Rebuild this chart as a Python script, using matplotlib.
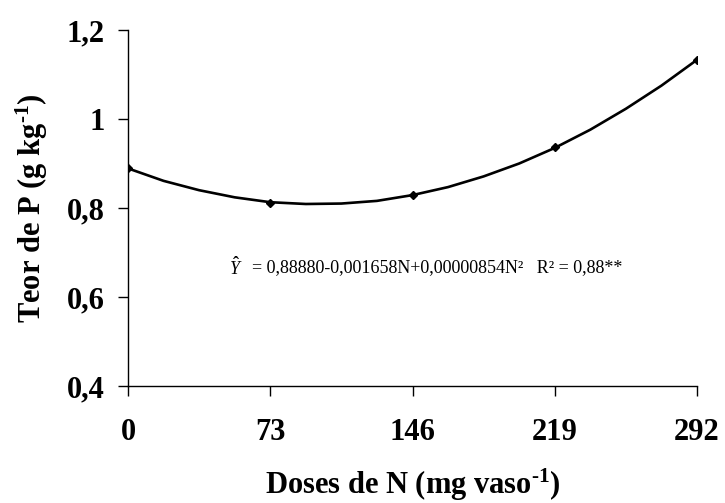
import numpy as np
import matplotlib.pyplot as plt

# fitted curve
doses_curve = [0, 18.25, 36.5, 54.75, 73, 91.25, 109.5, 127.75, 146,
               164.25, 182.5, 200.75, 219, 237.25, 255.5, 273.75, 292]
teor_curve = [0.889, 0.861, 0.840, 0.824, 0.813, 0.809, 0.810, 0.816, 0.829,
              0.847, 0.871, 0.900, 0.935, 0.976, 1.023, 1.075, 1.133]

# observed points
doses = [0, 73, 146, 219, 292]
teor = [0.889, 0.812, 0.830, 0.937, 1.132]

yticks = [0.4, 0.6, 0.8, 1.0, 1.2]
ytick_labels = ['0,4', '0,6', '0,8', '1', '1,2']

plt.rcParams['font.family'] = 'Liberation Serif'
plt.rcParams['mathtext.fontset'] = 'custom'
plt.rcParams['mathtext.rm'] = 'Liberation Serif:bold'
plt.rcParams['mathtext.it'] = 'Liberation Serif:italic'
plt.rcParams['mathtext.bf'] = 'Liberation Serif:bold'

fig = plt.figure(figsize=(7.25, 5.03), dpi=100)
# axes box in pixels: x 128..697, y 30..386
ax = fig.add_axes([128 / 725, 1 - 386 / 503, (697 - 128) / 725, (386 - 30) / 503])

ax.plot(doses_curve, teor_curve, color='black', lw=1.9)
ax.plot(doses, teor, 'D', color='black', ms=4)

ax.set_xlim(0, 292)
ax.set_ylim(0.4, 1.2)
ax.set_xticks(doses)
ax.set_xticklabels([str(d) for d in doses])
ax.set_yticks(yticks)
ax.set_yticklabels(ytick_labels)
ax.tick_params(axis='x', labelsize=22, length=7, width=1, direction='out', pad=16)
ax.tick_params(axis='y', labelsize=22, length=7, width=1, direction='out', pad=10)
for lab in ax.get_xticklabels() + ax.get_yticklabels():
    lab.set_fontweight('bold')

ax.spines['top'].set_visible(False)
ax.spines['right'].set_visible(False)
ax.spines['left'].set_linewidth(1)
ax.spines['bottom'].set_linewidth(1)

ax.set_xlabel(r'Doses de N (mg vaso$^{\text{-}1}$)', fontsize=22,
              fontweight='bold', labelpad=14)
ax.set_ylabel(r'Teor de P (g kg$^{\text{-}1}$)', fontsize=22,
              fontweight='bold', labelpad=12)

# equation in regular type
ax.text(52, 0.665, r'$\hat{Y}$', fontsize=13, va='center', ha='left')
ax.text(63.5, 0.665, '= 0,88880-0,001658N+0,00000854N\u00b2   R\u00b2 = 0,88**',
        fontsize=13, va='center', ha='left')

fig.savefig('out.png', dpi=100)
